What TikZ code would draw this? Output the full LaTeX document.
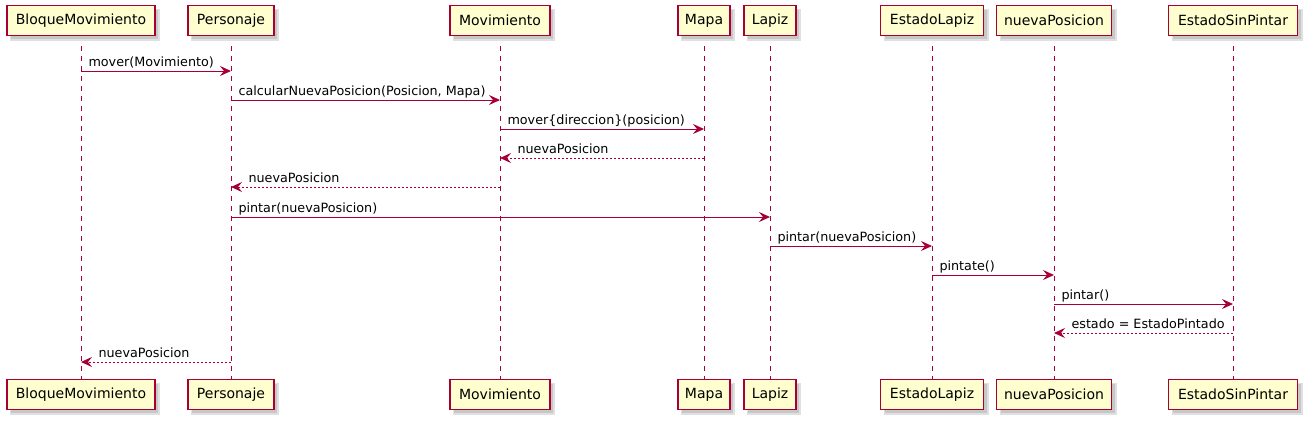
\documentclass[tikz,border=0pt]{standalone}
\usepackage{fontspec}
\setmainfont{DejaVu Sans}
\usetikzlibrary{arrows.meta}
\definecolor{pumlred}{HTML}{A80036}
\definecolor{pumlfill}{HTML}{FEFECE}
\tikzset{
  part/.style={draw=pumlred, fill=pumlfill, line width=1.5pt, minimum height=30pt, inner sep=0pt,
    font=\fontsize{14}{16}\selectfont},
  shade1/.style={fill=black!12, draw=none, minimum height=32pt, inner sep=0pt},
  shade2/.style={fill=black!22, draw=none, minimum height=29pt, inner sep=0pt},
  life/.style={draw=pumlred, line width=0.9pt, dash pattern=on 5pt off 5pt},
  msg/.style={draw=pumlred, line width=1pt, -{Stealth[length=11pt,width=10pt,inset=4pt]}},
  ret/.style={msg, dash pattern=on 2pt off 2pt},
  lbl/.style={font=\fontsize{12.75}{15}\selectfont, inner sep=0pt, anchor=base west, text=black},
}
\begin{document}
\begin{tikzpicture}[x=1pt,y=-1pt]
\useasboundingbox[fill=white] (0,0) rectangle (1308,423);
\foreach \n/\x/\w/\t in {B/81/148/BloqueMovimiento, P/231/86/Personaje, Mov/500/100/Movimiento,
  Mapa/704/52/Mapa, Lapiz/770/52/Lapiz, EL/932/103/EstadoLapiz, NP/1054/115/nuevaPosicion,
  ESP/1233/129/EstadoSinPintar}{
  \coordinate (l\n top) at (\x,36);
  \coordinate (l\n bot) at (\x,379);
  \draw[life] (l\n top) -- (l\n bot);
  \node[shade1, minimum width=\w pt+2pt] at (\x+4,24.5) {};
  \node[shade2, minimum width=\w pt-1pt] at (\x+3.5,24) {};
  \node[shade1, minimum width=\w pt+2pt] at (\x+4,398.5) {};
  \node[shade2, minimum width=\w pt-1pt] at (\x+3.5,398) {};
  \node[part, minimum width=\w pt] (t\n) at (\x,20.5) {\t};
  \node[part, minimum width=\w pt] (b\n) at (\x,394.5) {\t};
}
\draw[msg] (tB |- 0,71) -- (tP |- 0,71) node[lbl,pos=0,xshift=7pt,yshift=5pt] {mover(Movimiento)};
\draw[msg] (tP |- 0,100) -- (tMov |- 0,100) node[lbl,pos=0,xshift=7pt,yshift=5pt] {calcularNuevaPosicion(Posicion, Mapa)};
\draw[msg] (tMov |- 0,129) -- (tMapa |- 0,129) node[lbl,pos=0,xshift=7pt,yshift=5pt] {mover\{direccion\}(posicion)};
\draw[ret] (tMapa |- 0,158) -- (tMov |- 0,158) node[lbl,pos=1,xshift=17pt,yshift=5pt] {nuevaPosicion};
\draw[ret] (tMov |- 0,187) -- (tP |- 0,187) node[lbl,pos=1,xshift=17pt,yshift=5pt] {nuevaPosicion};
\draw[msg] (tP |- 0,217) -- (tLapiz |- 0,217) node[lbl,pos=0,xshift=7pt,yshift=5pt] {pintar(nuevaPosicion)};
\draw[msg] (tLapiz |- 0,246) -- (tEL |- 0,246) node[lbl,pos=0,xshift=7pt,yshift=5pt] {pintar(nuevaPosicion)};
\draw[msg] (tEL |- 0,275) -- (tNP |- 0,275) node[lbl,pos=0,xshift=7pt,yshift=5pt] {pintate()};
\draw[msg] (tNP |- 0,304) -- (tESP |- 0,304) node[lbl,pos=0,xshift=7pt,yshift=5pt] {pintar()};
\draw[ret] (tESP |- 0,333) -- (tNP |- 0,333) node[lbl,pos=1,xshift=17pt,yshift=5pt] {estado = EstadoPintado};
\draw[ret] (tP |- 0,362) -- (tB |- 0,362) node[lbl,pos=1,xshift=17pt,yshift=5pt] {nuevaPosicion};
\end{tikzpicture}
\end{document}
